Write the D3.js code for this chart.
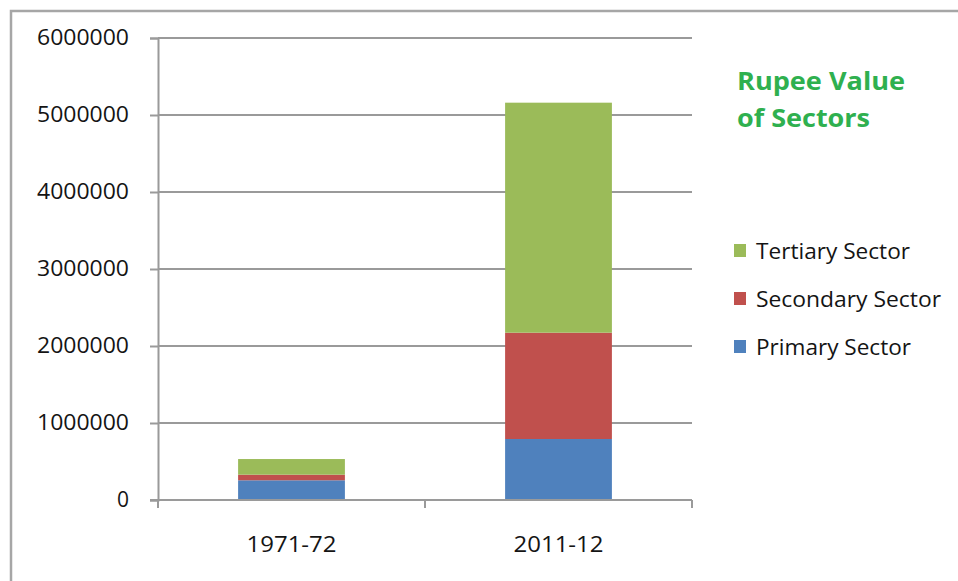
<!DOCTYPE html>
<html>
<head>
<meta charset="utf-8">
<script src="https://cdn.jsdelivr.net/npm/d3@7"></script>
<style>
html,body{margin:0;padding:0;background:#fff;}
svg{display:block;}
</style>
</head>
<body>
<svg id="chart" width="958" height="581"></svg>
<script>
const categories = ["1971-72", "2011-12"];
const seriesNames = ["Primary Sector", "Secondary Sector", "Tertiary Sector"];
const primary = [256000, 792000];
const secondary = [73000, 1381000];
const tertiary = [203000, 2987000];
const yTicks = [0, 1000000, 2000000, 3000000, 4000000, 5000000, 6000000];
const colors = ["#4f81bd", "#c0504d", "#9bbb59"];
const titleLines = ["Rupee Value", "of Sectors"];

const svg = d3.select("#chart");
const fontFam = "'Open Sans', 'Liberation Sans', sans-serif";
const textCol = "#141414";

// outer border
svg.append("rect").attr("x", 11).attr("y", 11).attr("width", 1000).attr("height", 700)
  .attr("fill", "none").attr("stroke", "#a6a6a6").attr("stroke-width", 2.5);

const pLeft = 158, pRight = 692, pTop = 38, pBottom = 500;
const x = d3.scaleBand().domain(categories).range([pLeft, pRight]).padding(0);
const y = d3.scaleLinear().domain([0, 6000000]).range([pBottom, pTop]);

// gridlines
svg.append("g").selectAll("line").data(yTicks.filter(d => d > 0)).join("line")
  .attr("x1", pLeft).attr("x2", pRight)
  .attr("y1", d => y(d)).attr("y2", d => y(d))
  .attr("stroke", "#9a9a9a").attr("stroke-width", 2);

// stacked bars
const rows = categories.map((c, i) => ({cat: c, p: primary[i], s: secondary[i], t: tertiary[i]}));
const stack = d3.stack().keys(["p", "s", "t"]);
const layers = stack(rows);
const bw = x.bandwidth() * 0.4;
svg.append("g").selectAll("g").data(layers).join("g")
  .attr("fill", (d, i) => colors[i])
  .selectAll("rect").data(d => d).join("rect")
  .attr("x", d => x(d.data.cat) + (x.bandwidth() - bw) / 2)
  .attr("width", bw)
  .attr("y", d => y(d[1]))
  .attr("height", d => y(d[0]) - y(d[1]));

// y axis
const yAxis = d3.axisLeft(y).tickValues(yTicks).tickSize(8).tickPadding(21).tickFormat(d3.format("d"));
const gy = svg.append("g").attr("transform", `translate(${pLeft},0)`).call(yAxis);
gy.select(".domain").attr("stroke", "#9a9a9a").attr("stroke-width", 2);
gy.selectAll(".tick line").attr("stroke", "#9a9a9a").attr("stroke-width", 2);
gy.selectAll(".tick text").attr("font-family", fontFam).attr("font-size", 21)
  .attr("fill", textCol)
  .each(function(d) { if (d > 0) d3.select(this).attr("textLength", 92).attr("lengthAdjust", "spacingAndGlyphs"); });

// x axis
const xAxis = d3.axisBottom(x).tickSize(0).tickPadding(37);
const gx = svg.append("g").attr("transform", `translate(0,${pBottom})`).call(xAxis);
gx.select(".domain").remove();
gx.append("line").attr("x1", pLeft - 8).attr("x2", pRight).attr("y1", 0).attr("y2", 0)
  .attr("stroke", "#9a9a9a").attr("stroke-width", 2);
const bounds = [pLeft, x(categories[1]), pRight];
gx.selectAll(".sep").data(bounds).join("line").attr("class", "sep")
  .attr("x1", d => d).attr("x2", d => d).attr("y1", 0).attr("y2", 8)
  .attr("stroke", "#9a9a9a").attr("stroke-width", 2);
gx.selectAll(".tick text").attr("font-family", fontFam).attr("font-size", 21)
  .attr("fill", textCol).attr("textLength", 90).attr("lengthAdjust", "spacingAndGlyphs");

// title
const titleWidths = [168, 133];
svg.append("g").selectAll("text").data(titleLines).join("text")
  .attr("x", 737).attr("y", (d, i) => 90 + i * 37)
  .attr("font-family", fontFam).attr("font-weight", "bold").attr("font-size", 25)
  .attr("fill", "#2fb04f")
  .attr("textLength", (d, i) => titleWidths[i]).attr("lengthAdjust", "spacingAndGlyphs")
  .text(d => d);

// legend
const legendItems = [2, 1, 0];
const legendWidths = {0: 155, 1: 185, 2: 154};
const lg = svg.append("g").selectAll("g").data(legendItems).join("g")
  .attr("transform", (d, i) => `translate(734,${259 + i * 48})`);
lg.append("rect").attr("x", 0).attr("y", -15).attr("width", 12).attr("height", 13)
  .attr("fill", d => colors[d]);
lg.append("text").attr("x", 22).attr("y", 0)
  .attr("font-family", fontFam).attr("font-size", 22).attr("fill", textCol)
  .attr("textLength", d => legendWidths[d]).attr("lengthAdjust", "spacingAndGlyphs")
  .text(d => seriesNames[d]);
</script>
</body>
</html>
